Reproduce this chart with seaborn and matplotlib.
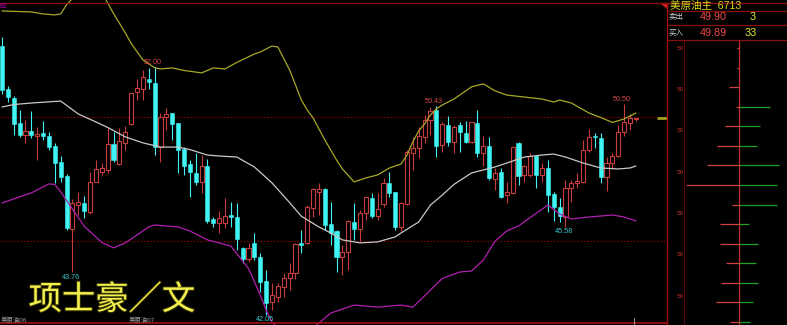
import numpy as np
import pandas as pd
import matplotlib
matplotlib.use("Agg")
import matplotlib.pyplot as plt
import seaborn as sns
from matplotlib.lines import Line2D
from matplotlib.patches import Polygon
import matplotlib.patheffects as pe

# ---------------- data ----------------
opens = [52.84, 51.12, 50.75, 49.75, 49.27, 49.43, 49.23, 49.35, 49.23, 48.82,
         48.18, 47.62, 45.49, 46.45, 46.53, 46.17, 47.38, 47.78, 47.86, 48.91,
         48.10, 48.95, 49.71, 51.00, 51.12, 51.52, 51.36, 48.78, 49.99, 50.15,
         49.75, 48.70, 48.10, 47.74, 47.38, 48.02, 45.89, 45.73, 45.73, 46.05,
         45.97, 44.72, 44.28, 44.93, 44.36, 43.40, 42.55, 42.76, 43.16, 43.52,
         43.72, 44.93, 44.93, 46.33, 46.98, 47.10, 45.69, 45.41, 44.36, 44.56,
         45.77, 45.49, 46.13, 46.73, 46.01, 46.49, 47.34, 46.98, 45.57, 46.49,
         48.54, 48.74, 49.19, 49.87, 50.27, 48.87, 49.67, 48.99, 49.67, 49.35,
         48.99, 49.75, 48.54, 48.82, 47.50, 47.78, 46.86, 46.94, 48.95, 47.66,
         47.66, 48.42, 47.66, 47.94, 46.90, 46.37, 45.97, 47.14, 47.34, 47.38,
         48.66, 49.23, 49.15, 47.58, 48.14, 48.42, 49.39, 49.75, 49.90]
highs = [53.21, 51.24, 50.83, 50.27, 49.87, 50.23, 49.59, 49.83, 49.39, 48.95,
         48.42, 47.70, 46.69, 46.98, 46.81, 47.78, 48.26, 48.14, 49.55, 49.39,
         49.55, 49.63, 50.96, 51.52, 51.88, 51.96, 52.00, 50.15, 50.35, 50.15,
         49.75, 48.78, 48.26, 48.54, 48.46, 48.30, 45.97, 46.21, 46.73, 46.57,
         46.53, 44.77, 44.93, 45.33, 44.52, 43.84, 43.32, 43.32, 43.72, 44.12,
         44.93, 45.45, 46.45, 47.14, 47.34, 47.14, 46.57, 45.45, 44.85, 45.85,
         46.53, 46.25, 46.78, 46.94, 46.94, 47.54, 47.78, 46.98, 46.57, 48.66,
         49.19, 49.59, 50.07, 50.40, 50.43, 49.79, 50.03, 49.67, 49.79, 49.83,
         49.79, 50.27, 49.23, 49.19, 47.94, 47.94, 47.38, 48.82, 48.99, 48.06,
         48.54, 48.46, 48.14, 48.26, 46.98, 46.73, 47.46, 47.46, 47.74, 49.07,
         49.51, 49.35, 49.35, 48.38, 48.54, 49.67, 50.50, 50.11, 49.95]
lows = [50.90, 50.59, 49.27, 49.19, 48.95, 49.15, 48.26, 49.07, 48.66, 47.34,
        47.38, 45.45, 43.76, 46.05, 45.93, 46.09, 47.38, 47.66, 47.74, 48.18,
        48.06, 48.66, 49.67, 50.67, 50.67, 51.12, 48.46, 48.18, 49.47, 49.07,
        47.74, 47.66, 46.78, 47.26, 46.94, 45.73, 45.57, 45.33, 45.53, 45.57,
        44.64, 44.12, 44.16, 44.24, 42.96, 42.05, 42.23, 42.55, 42.76, 43.04,
        43.48, 44.52, 44.89, 45.97, 46.05, 45.45, 44.85, 43.76, 43.64, 43.84,
        45.05, 45.01, 45.85, 45.93, 45.85, 46.37, 46.78, 45.45, 45.41, 46.45,
        47.86, 48.34, 48.95, 49.27, 48.38, 48.58, 48.82, 48.54, 48.58, 48.95,
        48.95, 48.38, 48.02, 47.46, 47.06, 46.73, 46.53, 46.90, 47.26, 47.38,
        47.58, 47.14, 47.38, 46.17, 45.81, 45.77, 45.58, 46.57, 47.14, 47.34,
        48.58, 48.74, 47.34, 47.02, 47.94, 48.38, 49.23, 49.47, 49.83]
closes = [51.08, 50.79, 49.71, 49.27, 49.43, 49.27, 49.31, 49.23, 48.78, 48.14,
          47.58, 45.53, 46.53, 46.57, 46.21, 47.38, 47.90, 47.94, 48.91, 48.26,
          49.03, 49.39, 50.96, 51.16, 51.60, 51.40, 48.78, 49.99, 50.11, 49.71,
          48.66, 48.02, 47.78, 47.38, 48.02, 45.81, 45.73, 45.93, 46.01, 45.97,
          45.09, 44.28, 44.72, 44.36, 43.36, 42.51, 42.84, 43.20, 43.52, 43.72,
          44.89, 44.85, 46.37, 47.10, 47.10, 45.65, 45.33, 44.36, 44.56, 45.81,
          45.49, 46.13, 46.78, 46.01, 46.29, 47.34, 46.94, 45.57, 46.53, 48.58,
          48.74, 49.23, 49.87, 50.23, 48.82, 49.71, 48.99, 49.59, 49.39, 48.99,
          49.79, 48.54, 48.82, 47.54, 47.74, 46.78, 46.98, 48.78, 47.62, 48.02,
          48.42, 47.66, 47.94, 46.86, 46.37, 46.01, 47.14, 47.34, 47.42, 48.66,
          49.19, 49.19, 47.58, 48.14, 48.42, 49.39, 49.79, 49.95, 49.93]

upper_idx = [0, 5, 7, 9, 10, 11, 13, 15, 17, 19, 21, 22, 24, 26, 27, 29, 31, 34, 36, 38,
             40, 43, 44, 46, 47, 49, 50, 51, 52, 53, 55, 57, 58, 60, 62, 64, 66, 68, 69, 70,
             71, 72, 73, 74, 75, 77, 80, 82, 84, 86, 89, 92, 94, 95, 97, 100, 102, 104, 106,
             107, 108]
upper_val = [54.25, 54.21, 54.13, 54.09, 54.13, 54.50, 55.00, 55.30, 55.00, 54.15, 53.37,
             52.95, 52.28, 51.97, 51.92, 51.96, 51.86, 51.76, 51.96, 51.92, 52.18, 52.52,
             52.60, 52.84, 52.80, 51.88, 51.28, 50.67, 50.27, 49.95, 49.07, 48.26, 47.90,
             47.38, 47.54, 47.66, 47.94, 48.10, 48.46, 48.99, 49.43, 49.71, 50.07, 50.31,
             50.47, 50.71, 51.20, 51.32, 51.04, 50.87, 50.79, 50.71, 50.59, 50.67, 50.55,
             50.15, 49.97, 49.77, 49.91, 50.03, 50.15]

mid_idx = [0, 2, 5, 10, 13, 16, 18, 21, 24, 27, 30, 32, 35, 37, 40, 43, 46, 49, 51, 54,
           56, 58, 61, 64, 67, 68, 71, 73, 75, 77, 80, 84, 86, 89, 92, 94, 96, 99, 102,
           105, 107, 108]
mid_val = [50.39, 50.49, 50.55, 50.63, 50.11, 49.79, 49.57, 49.19, 48.95, 48.78, 48.78,
           48.68, 48.46, 48.42, 48.38, 47.98, 47.34, 46.55, 46.00, 45.57, 45.33, 45.05,
           44.93, 44.97, 45.17, 45.33, 45.77, 46.45, 46.85, 47.28, 47.74, 47.98, 48.14,
           48.38, 48.46, 48.50, 48.38, 48.14, 47.94, 47.90, 47.94, 48.02]

lower_idx = [0, 3, 5, 7, 8, 9, 10, 12, 14, 17, 19, 21, 25, 26, 30, 32, 35, 37, 39, 42,
             44, 45, 46, 48, 50, 52, 54, 56, 60, 64, 68, 70, 72, 75, 78, 80, 82, 84, 86,
             88, 90, 93, 95, 97, 100, 104, 106, 108]
lower_val = [46.53, 46.78, 46.94, 47.18, 47.30, 47.28, 46.98, 46.29, 45.60, 44.95, 44.73,
             44.93, 45.57, 45.65, 45.57, 45.41, 45.05, 44.93, 44.80, 43.90, 42.84, 42.23,
             41.75, 41.30, 41.10, 41.30, 41.71, 42.11, 42.43, 42.35, 42.43, 42.35, 42.80,
             43.50, 43.76, 43.80, 44.24, 45.00, 45.41, 45.61, 45.95, 46.45, 46.09, 45.89,
             45.97, 46.05, 45.97, 45.81]

grid_levels = [50.0, 45.0]
high_marks = [(26, "52.00"), (74, "50.43"), (106, "50.50")]
low_marks = [(12, "43.76"), (45, "42.05"), (96, "45.58")]
contract_labels = ["美原油06", "美原油07"]

# order-book panel
book_sell = [2, 2, 10, 3, 14, 22, 32, 53, 7, 19, 19, 13, 18, 23, 9]
book_buy = [0, 0, 0, 31, 21, 18, 40, 38, 38, 10, 19, 17, 19, 14, 11]
book_tick = ["50"] * 7
title_name, title_code = "美原油主", "6713"
ask_label, ask_price, ask_vol = "卖出", "49.90", "3"
bid_label, bid_price, bid_vol = "买入", "49.89", "33"
author = "项士豪／文"

# ---------------- style ----------------
sns.set_theme(style="dark", rc={"axes.facecolor": "black", "figure.facecolor": "black"})
plt.rcParams['font.family'] = ['Liberation Sans', 'DejaVu Sans', 'Noto Sans CJK SC']

RED = '#c83c3c'
CYAN = '#40f4f4'

W, H = 787, 325
fig = plt.figure(figsize=(W / 100, H / 100), dpi=100, facecolor='black')

def fx(x):
    return x / W

def fy(y):
    return 1 - y / H

# ---------------- main chart ----------------
ax = fig.add_axes([0, 0, 667 / W, 1])

for lv in grid_levels:
    ax.axhline(lv, color='#800000', lw=0.8, ls=(0, (1.5, 1.5)), zorder=1)

o = np.array(opens); h = np.array(highs); l = np.array(lows); c = np.array(closes)
idx = np.arange(len(o))
up = c >= o
bot = np.minimum(o, c)
bh = np.maximum(np.abs(c - o), 0.035)

ax.vlines(idx[up], l[up], h[up], color=RED, lw=0.8, zorder=2)
ax.vlines(idx[~up], l[~up], h[~up], color=CYAN, lw=0.8, zorder=2)
ax.bar(idx[up], bh[up], bottom=bot[up], width=0.7, facecolor='black',
       edgecolor=RED, lw=0.8, zorder=3)
ax.bar(idx[~up], bh[~up], bottom=bot[~up], width=0.7, facecolor=CYAN,
       edgecolor=CYAN, lw=0.4, zorder=3)

bands = pd.concat([
    pd.DataFrame({"i": upper_idx, "v": upper_val, "b": "upper"}),
    pd.DataFrame({"i": mid_idx, "v": mid_val, "b": "mid"}),
    pd.DataFrame({"i": lower_idx, "v": lower_val, "b": "lower"}),
])
sns.lineplot(data=bands, x="i", y="v", hue="b", estimator=None, sort=False,
             palette={"upper": "#a8a828", "mid": "#c8c8c8", "lower": "#b020b0"},
             lw=0.9, legend=False, ax=ax, zorder=4)
ax.set_xlim(-0.34, 113.3)
ax.set_ylim(41.63, 54.69)
ax.axis('off')

for i, t in high_marks:
    ax.annotate(t, xy=(i, h[i]), xytext=(-1.5, 2.2), textcoords='offset points',
                ha='center', va='baseline', color='#d84848', fontsize=5.2, zorder=6)
for i, t in low_marks:
    ax.annotate(t, xy=(i, l[i]), xytext=(-1, -1.2), textcoords='offset points',
                ha='center', va='top', color='#38c8d0', fontsize=5.2, zorder=6)

# last price marker
ax.hlines(c[-1], 111.6, 113.3, color='#a0a020', lw=2, zorder=5)

# borders
fig.add_artist(Line2D([0, 1], [fy(2.5), fy(2.5)], color='#8a1010', lw=1))
fig.add_artist(Line2D([0, fx(667)], [fy(323), fy(323)], color='#a01010', lw=1.2))
fig.add_artist(Line2D([fx(667), fx(667)], [0, fy(2.5)], color='#a01010', lw=1))
fig.add_artist(Polygon([[fx(661), fy(2.5)], [fx(667), fy(2.5)], [fx(667), fy(8)]],
                       closed=True, color='#d02020'))
fig.add_artist(Line2D([fx(634), fx(634)], [fy(325), fy(318)], color='#909090', lw=0.8))

fig.text(fx(0), fy(6.5), "82", color='#c000c0', fontsize=5, ha='left', va='center')
for xp, t in zip([1, 129], contract_labels):
    fig.text(fx(xp), fy(320), t, color='#9a9a9a', fontsize=4.6, ha='left', va='center',
             family=['Liberation Sans', 'Noto Sans CJK SC'])

fig.text(fx(112), fy(300), author, color='#f4f050', fontsize=24, ha='center', va='center',
         family=['Noto Sans CJK SC'],
         path_effects=[pe.withStroke(linewidth=1.5, foreground='#303000')])

# ---------------- right panel ----------------
for yy in [11, 25, 40]:
    fig.add_artist(Line2D([fx(667), 1], [fy(yy), fy(yy)], color='#8a1010', lw=0.9))

fig.text(fx(670), fy(5.6), title_name + "  " + title_code, color='#d8d820', fontsize=7.6,
         ha='left', va='center', family=['Liberation Sans', 'Noto Sans CJK SC'])
fig.text(fx(669), fy(17.5), ask_label, color='#d0d0d0', fontsize=5.4, ha='left', va='center',
         family=['Noto Sans CJK SC'])
fig.text(fx(669), fy(33), bid_label, color='#d0d0d0', fontsize=5.4, ha='left', va='center',
         family=['Noto Sans CJK SC'])
fig.text(fx(713), fy(17.5), ask_price, color='#f04848', fontsize=7.8, ha='center', va='center')
fig.text(fx(713), fy(33), bid_price, color='#f04848', fontsize=7.8, ha='center', va='center')
fig.text(fx(756), fy(17.5), ask_vol, color='#e8e830', fontsize=7.8, ha='right', va='center')
fig.text(fx(757), fy(33), bid_vol, color='#e8e830', fontsize=7.8, ha='right', va='center')

axr = fig.add_axes([667 / W, 0, 120 / W, 285 / H])
axr.set_xlim(-72, 48)
axr.set_ylim(14.15, -0.41)
axr.axis('off')
lv = np.arange(len(book_sell))
axr.axvline(0, color='#c03030', lw=0.9, zorder=1)
axr.axvline(-55, color='#5a0a0a', lw=0.8, zorder=1)
axr.hlines(lv, -np.array(book_sell), 0, color='#d04040', lw=0.9, zorder=2)
axr.hlines(lv, 0, np.array(book_buy), color='#20a020', lw=0.9, zorder=2)
for k, t in enumerate(book_tick):
    yy = 48 + k * (296 - 48) / (len(book_tick) - 1)
    fig.text(fx(680), fy(yy), t, color='#c03030', fontsize=4.6, ha='center', va='center')

fig.savefig("out.png", dpi=100, facecolor='black')
